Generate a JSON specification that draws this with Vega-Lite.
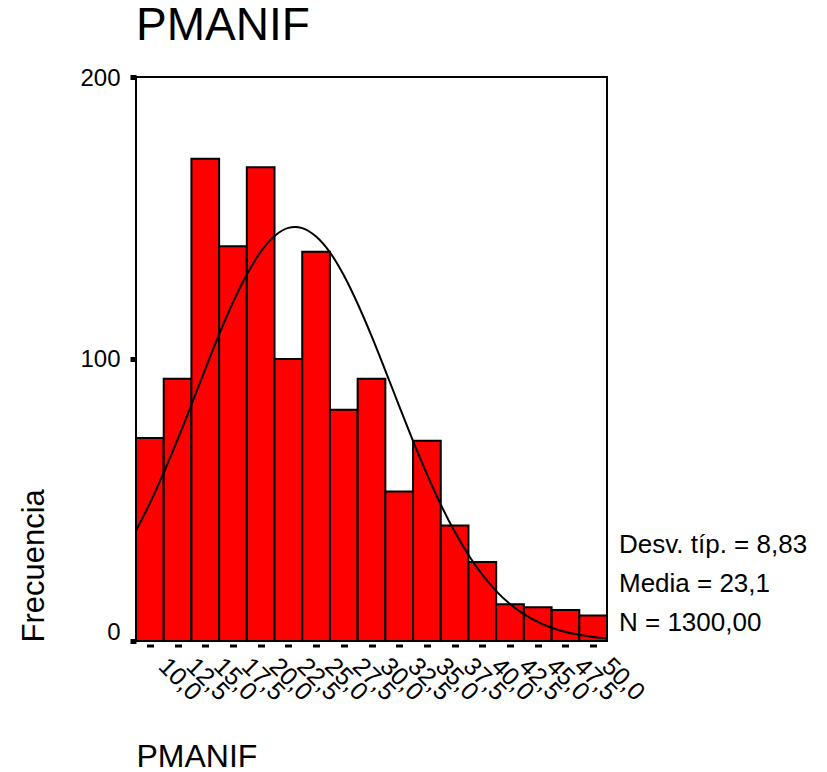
{
  "$schema": "https://vega.github.io/schema/vega-lite/v6.json",
  "width": 471,
  "height": 564,
  "autosize": {"type": "none"},
  "padding": {"left": 136, "top": 77, "right": 220, "bottom": 131},
  "background": "white",
  "config": {
    "font": "Liberation Sans",
    "view": {"stroke": "black", "strokeWidth": 2, "fill": "white"},
    "axis": {"grid": false, "domain": false, "labelColor": "black", "titleColor": "black", "tickColor": "black", "titleFontWeight": "normal", "labelFont": "Liberation Sans", "titleFont": "Liberation Sans", "labelOverlap": false, "labelBound": false, "labelFlush": false}
  },
  "title": {"text": "PMANIF", "anchor": "start", "frame": "group", "fontSize": 46, "fontWeight": "normal", "color": "black", "baseline": "bottom", "offset": 27, "dy": 57},
  "datasets": {
    "bins": [
      {"lo": 8.75, "hi": 11.25, "count": 72},
      {"lo": 11.25, "hi": 13.75, "count": 93},
      {"lo": 13.75, "hi": 16.25, "count": 171},
      {"lo": 16.25, "hi": 18.75, "count": 140},
      {"lo": 18.75, "hi": 21.25, "count": 168},
      {"lo": 21.25, "hi": 23.75, "count": 100},
      {"lo": 23.75, "hi": 26.25, "count": 138},
      {"lo": 26.25, "hi": 28.75, "count": 82},
      {"lo": 28.75, "hi": 31.25, "count": 93},
      {"lo": 31.25, "hi": 33.75, "count": 53},
      {"lo": 33.75, "hi": 36.25, "count": 71},
      {"lo": 36.25, "hi": 38.75, "count": 41},
      {"lo": 38.75, "hi": 41.25, "count": 28},
      {"lo": 41.25, "hi": 43.75, "count": 13},
      {"lo": 43.75, "hi": 46.25, "count": 12},
      {"lo": 46.25, "hi": 48.75, "count": 11},
      {"lo": 48.75, "hi": 51.25, "count": 9}
    ],
    "curve": [
      {"x": 8.75, "f": 39.2}, {"x": 10, "f": 48.8}, {"x": 11.25, "f": 59.7}, {"x": 12.5, "f": 71.4},
      {"x": 13.75, "f": 83.8}, {"x": 15, "f": 96.4}, {"x": 16.25, "f": 108.7}, {"x": 17.5, "f": 120.1},
      {"x": 18.75, "f": 130.0}, {"x": 20, "f": 138.0}, {"x": 21.25, "f": 143.6}, {"x": 22.5, "f": 146.5},
      {"x": 23.1, "f": 146.8}, {"x": 23.75, "f": 146.4}, {"x": 25, "f": 143.4}, {"x": 26.25, "f": 137.8},
      {"x": 27.5, "f": 129.7}, {"x": 28.75, "f": 119.6}, {"x": 30, "f": 108.2}, {"x": 31.25, "f": 95.9},
      {"x": 32.5, "f": 83.3}, {"x": 33.75, "f": 70.9}, {"x": 35, "f": 59.2}, {"x": 36.25, "f": 48.4},
      {"x": 37.5, "f": 38.8}, {"x": 38.75, "f": 30.5}, {"x": 40, "f": 23.5}, {"x": 41.25, "f": 17.7},
      {"x": 42.5, "f": 13.1}, {"x": 43.75, "f": 9.5}, {"x": 45, "f": 6.8}, {"x": 46.25, "f": 4.7},
      {"x": 47.5, "f": 3.2}, {"x": 48.75, "f": 2.2}, {"x": 50, "f": 1.4}, {"x": 51.25, "f": 0.9}
    ]
  },
  "layer": [
    {
      "data": {"name": "bins"},
      "mark": {"type": "rect", "fill": "#FF0000", "stroke": "black", "strokeWidth": 2},
      "encoding": {
        "x": {
          "field": "lo", "type": "quantitative",
          "scale": {"domain": [8.75, 51.25], "nice": false, "zero": false},
          "axis": {
            "title": "PMANIF",
            "values": [10, 12.5, 15, 17.5, 20, 22.5, 25, 27.5, 30, 32.5, 35, 37.5, 40, 42.5, 45, 47.5, 50],
            "tickCount": 40,
            "labelExpr": "replace(format(datum.value, '.1f'), '.', ',')",
            "labelAngle": 45, "labelFontSize": 25, "labelAlign": "left", "labelBaseline": "top",
            "labelPadding": 6, "labelOffset": 21, "labelOverlap": false, "labelBound": false,
            "tickSize": 3, "tickWidth": 7, "offset": 3,
            "titleFontSize": 32, "titleX": 0, "titleY": 122, "titleAlign": "left", "titleBaseline": "alphabetic", "titleAngle": 0
          }
        },
        "x2": {"field": "hi"},
        "y": {
          "field": "count", "type": "quantitative",
          "scale": {"domain": [0, 200], "nice": false},
          "axis": {
            "title": "Frecuencia",
            "values": [0, 100, 200],
            "labelFontSize": 24, "tickSize": 6, "tickWidth": 5, "labelPadding": 10,
            "labelOffset": {"condition": [{"test": "datum.value === 0", "value": -9}, {"test": "datum.value === 200", "value": 1}], "value": 0},
            "titleFontSize": 31, "titleAngle": 270, "titleX": -93, "titleY": 565, "titleAlign": "left", "titleBaseline": "alphabetic"
          }
        },
        "y2": {"datum": 0}
      }
    },
    {
      "data": {"name": "curve"},
      "mark": {"type": "line", "stroke": "black", "strokeWidth": 2, "interpolate": "monotone"},
      "encoding": {
        "x": {"field": "x", "type": "quantitative"},
        "y": {"field": "f", "type": "quantitative"}
      }
    },
    {
      "data": {"values": [{}]},
      "mark": {"type": "text", "text": "Desv. típ. = 8,83", "fontSize": 26, "align": "left", "baseline": "alphabetic", "color": "black"},
      "encoding": {"x": {"datum": 52.33, "type": "quantitative"}, "y": {"datum": 31.2, "type": "quantitative"}}
    },
    {
      "data": {"values": [{}]},
      "mark": {"type": "text", "text": "Media = 23,1", "fontSize": 26, "align": "left", "baseline": "alphabetic", "color": "black"},
      "encoding": {"x": {"datum": 52.33, "type": "quantitative"}, "y": {"datum": 17.4, "type": "quantitative"}}
    },
    {
      "data": {"values": [{}]},
      "mark": {"type": "text", "text": "N = 1300,00", "fontSize": 26, "align": "left", "baseline": "alphabetic", "color": "black"},
      "encoding": {"x": {"datum": 52.33, "type": "quantitative"}, "y": {"datum": 3.5, "type": "quantitative"}}
    }
  ]
}
